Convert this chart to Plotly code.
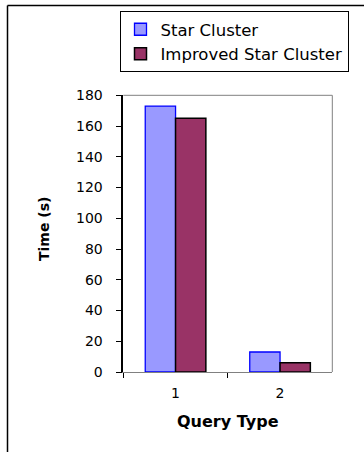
import plotly.graph_objects as go

# Query timings (seconds) for the two clustering variants
query_types = ["1", "2"]
star_cluster = [173, 13]
improved_star_cluster = [165, 6]
y_ticks = [0, 20, 40, 60, 80, 100, 120, 140, 160, 180]

W, H = 364, 452


def px_x(p):
    return p / W


def px_y(p):
    return 1 - p / H


fig = go.Figure()
fig.add_trace(go.Bar(
    name="Star Cluster", x=query_types, y=star_cluster,
    marker=dict(color="#9999FF", line=dict(color="#0000FF", width=1.3)),
))
fig.add_trace(go.Bar(
    name="Improved Star Cluster", x=query_types, y=improved_star_cluster,
    marker=dict(color="#993366", line=dict(color="#000000", width=1.5)),
))

tick_font = dict(family="DejaVu Sans", size=14, color="#000000")

fig.update_layout(
    width=W, height=H,
    margin=dict(l=0, r=0, t=0, b=0, autoexpand=False),
    paper_bgcolor="white", plot_bgcolor="white",
    barmode="group", bargap=0.42, bargroupgap=0,
    showlegend=True,
    legend=dict(
        x=px_x(119.5), y=px_y(11), xanchor="left", yanchor="top",
        bordercolor="#000000", borderwidth=1, bgcolor="white",
        font=dict(family="DejaVu Sans", size=16.5, color="#000000"),
        tracegroupgap=0,
    ),
    xaxis=dict(
        domain=[px_x(123.3), px_x(332.3)],
        type="category", tickson="boundaries",
        ticks="outside", ticklen=5, tickcolor="#000000", tickwidth=1,
        showline=True, linecolor="#808080", linewidth=1,
        showgrid=False, tickfont=tick_font, ticklabelstandoff=8,
        fixedrange=True,
    ),
    yaxis=dict(
        domain=[px_y(372), px_y(95.3)],
        range=[0, 180], tickvals=y_ticks,
        ticks="outside", ticklen=6, tickcolor="#000000", tickwidth=1,
        showline=True, linecolor="#000000", linewidth=1.5,
        showgrid=False, zeroline=False, tickfont=tick_font,
        ticklabelstandoff=10, fixedrange=True,
    ),
    font=dict(family="DejaVu Sans", color="#000000"),
)

# Plot-area frame (top and right edges in grey)
fig.add_shape(type="line", xref="paper", yref="paper",
              x0=px_x(123.3), x1=px_x(332.3), y0=px_y(95.3), y1=px_y(95.3),
              line=dict(color="#808080", width=1))
fig.add_shape(type="line", xref="paper", yref="paper",
              x0=px_x(332.3), x1=px_x(332.3), y0=px_y(95.3), y1=px_y(372),
              line=dict(color="#808080", width=1))

# Outer chart border (left and top edges)
fig.add_shape(type="line", xref="paper", yref="paper",
              x0=px_x(7.5), x1=px_x(7.5), y0=px_y(5.5), y1=px_y(470),
              line=dict(color="#000000", width=1.5))
fig.add_shape(type="line", xref="paper", yref="paper",
              x0=px_x(7.5), x1=px_x(380), y0=px_y(5.5), y1=px_y(5.5),
              line=dict(color="#000000", width=1.5))

# Axis titles
fig.add_annotation(text="<b>Query Type</b>", xref="paper", yref="paper",
                   x=px_x(228), y=px_y(421.5), xanchor="center", yanchor="middle",
                   showarrow=False, font=dict(family="DejaVu Sans", size=16, color="#000000"))
fig.add_annotation(text="<b>Time (s)</b>", xref="paper", yref="paper",
                   x=px_x(44), y=px_y(229), xanchor="center", yanchor="middle",
                   textangle=-90, showarrow=False,
                   font=dict(family="DejaVu Sans", size=14, color="#000000"))

fig.write_html("out.html", config=dict(displayModeBar=False))
